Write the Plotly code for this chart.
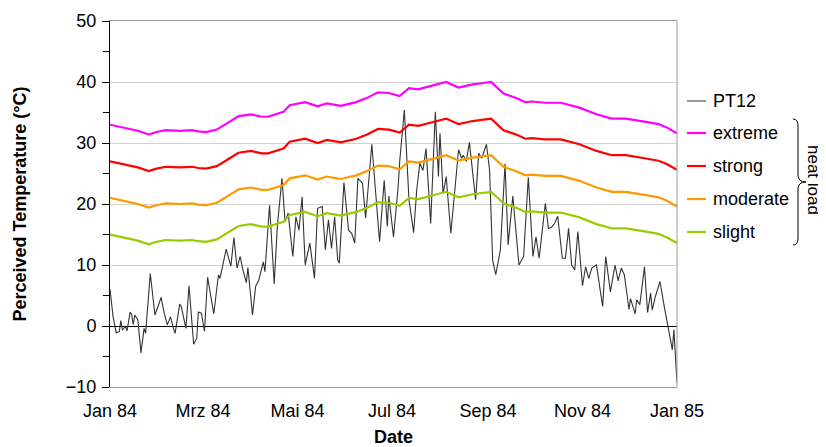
import plotly.graph_objects as go
from datetime import datetime, timedelta

# ---------------- data ----------------
pt12_days = [0, 2, 4, 6, 7, 8, 10, 11, 13, 14, 15, 16, 18, 20, 22, 23, 26, 29, 31, 33,
             35, 37, 38, 39, 41, 42, 45, 46, 49, 51, 54, 56, 57, 59, 61, 63, 67, 70, 71, 75,
             78, 80, 82, 84, 86, 88, 89, 92, 94, 96, 99, 100, 103, 106, 108, 111, 113, 115, 118, 120,
             122, 124, 126, 129, 132, 134, 137, 139, 141, 143, 145, 147, 148, 151, 154, 156, 158, 160, 163, 165,
             169, 172, 174, 177, 179, 180, 183, 186, 187, 190, 193, 196, 198, 200, 202, 204, 207, 210, 212, 213,
             215, 217, 220, 225, 227, 228, 230, 232, 236, 238, 240, 243, 245, 247, 249, 252, 255, 257, 260, 264,
             267, 270, 273, 275, 277, 281, 283, 285, 287, 289, 292, 294, 296, 298, 300, 302, 305, 307, 309, 311,
             314, 318, 320, 323, 326, 328, 330, 332, 335, 336, 339, 340, 342, 345, 347, 349, 350, 352, 355, 358,
             360, 363, 364, 366]
pt12_vals = [6.0, 1.5, -1.1, -0.9, 0.9, -0.7, 0.0, -0.8, 2.3, 1.9, 0.2, 1.8, 1.0, -4.4, -0.4, -1.2, 8.6, 1.8, 3.2, 4.7,
             2.1, 0.2, 0.8, 1.5, -0.4, -1.2, 3.6, 3.2, -0.4, 6.6, -3.0, -2.0, 2.3, 2.1, -0.9, 8.0, 2.0, 8.4, 7.8, 12.6,
             9.8, 14.5, 9.5, 11.4, 9.0, 7.1, 9.6, 1.8, 6.5, 7.5, 10.5, 8.9, 19.8, 6.9, 16.3, 24.2, 17.1, 18.5, 11.4, 17.9,
             15.7, 21.2, 10.0, 13.6, 7.8, 19.3, 19.6, 12.5, 17.4, 12.7, 17.9, 10.8, 10.3, 23.5, 15.7, 15.2, 13.6, 24.2, 23.4, 17.7,
             29.8, 19.6, 13.8, 23.9, 16.3, 21.3, 14.6, 22.8, 27.0, 35.4, 20.7, 15.3, 22.3, 26.7, 25.5, 29.1, 16.8, 35.1, 24.5, 31.6,
             21.7, 24.5, 15.2, 28.9, 27.5, 28.0, 27.0, 30.1, 20.7, 28.3, 27.5, 29.8, 25.6, 10.8, 8.4, 12.5, 26.6, 13.3, 21.3, 10.0,
             11.4, 24.4, 11.4, 14.6, 11.1, 20.1, 16.0, 16.2, 16.8, 18.0, 11.1, 11.1, 16.0, 10.0, 9.2, 15.5, 6.6, 9.7, 7.8, 9.5,
             10.0, 3.2, 11.4, 5.6, 10.0, 7.4, 9.5, 8.4, 2.7, 4.5, 2.0, 4.3, 3.5, 9.7, 2.2, 5.4, 2.6, 4.8, 7.3, 2.9,
             0.2, -3.9, -0.6, -9.3]

thr_days = [0, 10, 18, 25, 30, 36, 45, 53, 57, 62, 69, 76, 83, 91, 98, 102, 108, 112, 116, 126,
            134, 140, 149, 155, 159, 166, 173, 180, 187, 193, 199, 208, 217, 225, 234, 240, 246, 254, 263, 268,
            272, 281, 291, 303, 314, 324, 333, 345, 354, 359, 366]
slight = [15.0, 14.5, 14.0, 13.4, 13.8, 14.1, 14.0, 14.1, 13.9, 13.8, 14.2, 15.3, 16.4, 16.7, 16.3, 16.3, 16.8, 17.1, 18.2, 18.7,
          18.0, 18.5, 18.1, 18.5, 18.7, 19.4, 20.3, 20.2, 19.7, 21.0, 20.8, 21.4, 22.0, 21.1, 21.6, 21.8, 22.0, 20.1, 19.3, 18.7,
          18.8, 18.6, 18.6, 17.8, 16.7, 16.0, 16.0, 15.5, 15.1, 14.6, 13.6]
moderate = [21.0, 20.5, 20.0, 19.4, 19.8, 20.1, 20.0, 20.1, 19.9, 19.8, 20.2, 21.3, 22.4, 22.7, 22.3, 22.3, 22.8, 23.1, 24.2, 24.7,
            24.0, 24.5, 24.1, 24.5, 24.7, 25.4, 26.3, 26.2, 25.7, 27.0, 26.8, 27.4, 28.0, 27.1, 27.6, 27.8, 28.0, 26.1, 25.3, 24.7,
            24.8, 24.6, 24.6, 23.8, 22.7, 22.0, 22.0, 21.5, 21.1, 20.6, 19.6]
strong = [27.0, 26.5, 26.0, 25.4, 25.8, 26.1, 26.0, 26.1, 25.9, 25.8, 26.2, 27.3, 28.4, 28.7, 28.3, 28.3, 28.8, 29.1, 30.2, 30.7,
          30.0, 30.5, 30.1, 30.5, 30.7, 31.4, 32.3, 32.2, 31.7, 33.0, 32.8, 33.4, 34.0, 33.1, 33.6, 33.8, 34.0, 32.1, 31.3, 30.7,
          30.8, 30.6, 30.6, 29.8, 28.7, 28.0, 28.0, 27.5, 27.1, 26.6, 25.6]
extreme = [33.0, 32.5, 32.0, 31.4, 31.8, 32.1, 32.0, 32.1, 31.9, 31.8, 32.2, 33.3, 34.4, 34.7, 34.3, 34.3, 34.8, 35.1, 36.2, 36.7,
           36.0, 36.5, 36.1, 36.5, 36.7, 37.4, 38.3, 38.2, 37.7, 39.0, 38.8, 39.4, 40.0, 39.1, 39.6, 39.8, 40.0, 38.1, 37.3, 36.7,
           36.8, 36.6, 36.6, 35.8, 34.7, 34.0, 34.0, 33.5, 33.1, 32.6, 31.6]

tick_dates = ["1984-01-01", "1984-03-01", "1984-05-01", "1984-07-01", "1984-09-01", "1984-11-01", "1985-01-01"]
tick_text = ["Jan 84", "Mrz 84", "Mai 84", "Jul 84", "Sep 84", "Nov 84", "Jan 85"]

# ---------------- styling ----------------
FONT = "Liberation Sans, Arial, sans-serif"
FS = 18
OFF = 8                      # page body margin offset
W, H = 826 - OFF, 447 - OFF
L, R, T, B = 110, 677, 21, 387   # plot area in window pixels

def px_x(p):
    return (p - L) / (R - L)

def px_y(p):
    return (B - p) / (B - T)

base = datetime(1984, 1, 1)
def to_dates(days):
    return [base + timedelta(days=d) for d in days]

series = [
    ("extreme", extreme, "#FF00FF"),
    ("strong", strong, "#FF0000"),
    ("moderate", moderate, "#FF9900"),
    ("slight", slight, "#99CC00"),
]

fig = go.Figure()
fig.add_trace(go.Scatter(x=to_dates(pt12_days), y=pt12_vals, mode="lines", name="PT12",
                         line=dict(color="#333333", width=1.1), showlegend=False))
for name, vals, col in series:
    fig.add_trace(go.Scatter(x=to_dates(thr_days), y=vals, mode="lines", name=name,
                             line=dict(color=col, width=2.2), showlegend=False))

# manual legend
legend_items = [("PT12", "#555555", 1.2, 101), ("extreme", "#FF00FF", 2.2, 133),
                ("strong", "#FF0000", 2.2, 166), ("moderate", "#FF9900", 2.2, 199),
                ("slight", "#99CC00", 2.2, 232)]
shapes = []
annotations = []
for name, col, wd, py in legend_items:
    shapes.append(dict(type="line", xref="paper", yref="paper", x0=px_x(687), x1=px_x(706),
                       y0=px_y(py), y1=px_y(py), line=dict(color=col, width=wd)))
    annotations.append(dict(text=name, xref="paper", yref="paper", x=px_x(711), y=px_y(py),
                            xanchor="left", yanchor="middle", showarrow=False,
                            font=dict(family=FONT, size=FS, color="black")))

# right border
shapes.append(dict(type="line", xref="paper", yref="paper", x0=1, x1=1, y0=0, y1=1,
                   line=dict(color="#999999", width=1)))

# brace
shapes.append(dict(type="path", xref="paper", yref="paper", xsizemode="pixel", ysizemode="pixel",
                   xanchor=px_x(793), yanchor=px_y(182),
                   path="M0,63 Q5,63 5,56 L5,7 Q5,0 13,0 Q5,0 5,-7 L5,-56 Q5,-63 0,-63",
                   line=dict(color="black", width=1)))
annotations.append(dict(text="heat load", xref="paper", yref="paper", x=px_x(814), y=px_y(180),
                        xanchor="center", yanchor="middle", textangle=90, showarrow=False,
                        font=dict(family=FONT, size=17, color="black")))

fig.update_layout(
    width=W, height=H,
    margin=dict(l=L - OFF, r=826 - R, t=T - OFF, b=447 - B, pad=0),
    paper_bgcolor="white", plot_bgcolor="white",
    font=dict(family=FONT, size=FS, color="black"),
    shapes=shapes, annotations=annotations,
    xaxis=dict(type="date", range=["1984-01-01", "1985-01-01"],
               tickvals=tick_dates, ticktext=tick_text, ticks="", showgrid=False,
               showline=True, linecolor="#999999", linewidth=1, mirror=True,
               zeroline=False, tickfont=dict(family=FONT, size=FS), ticklabelstandoff=7,
               title=dict(text="<b>Date</b>", font=dict(family=FONT, size=FS), standoff=10),
               automargin=False),
    xaxis2=dict(type="date", range=["1984-01-01", "1985-01-01"], overlaying="x",
                anchor="free", position=10 / 60, tickvals=tick_dates, ticks="outside",
                ticklen=6, tickcolor="black", tickwidth=1, showticklabels=False,
                showgrid=False, showline=False, zeroline=False),
    yaxis=dict(range=[-10, 50], dtick=10, tick0=0, ticks="outside", ticklen=7,
               tickcolor="black", tickwidth=1, showline=True, linecolor="black", linewidth=1,
               showgrid=True, gridcolor="#d0d0d0", gridwidth=1,
               zeroline=True, zerolinecolor="black", zerolinewidth=1.2,
               minor=dict(dtick=10, tick0=5, ticks="outside", ticklen=6, tickcolor="black", showgrid=False),
               tickfont=dict(family=FONT, size=FS), ticklabelstandoff=2,
               title=dict(text="<b>Perceived Temperature (°C)</b>", font=dict(family=FONT, size=FS), standoff=34),
               automargin=False),
    yaxis2=dict(range=[-10, 50], overlaying="y", anchor="x", side="left",
                tickvals=[-5, 5, 15, 25, 35, 45], ticks="inside", ticklen=5, tickcolor="black",
                showticklabels=False, showgrid=False, showline=False, zeroline=False),
    showlegend=False,
)

fig.write_html("out.html")
